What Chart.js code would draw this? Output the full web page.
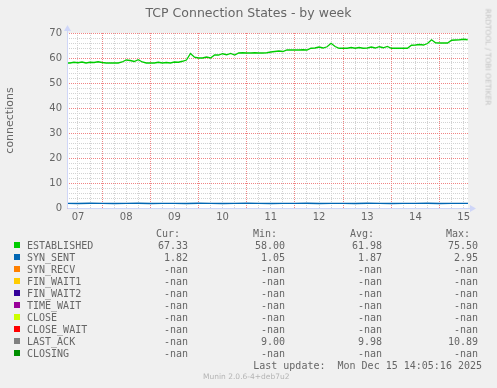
<!DOCTYPE html>
<html>
<head>
<meta charset="utf-8">
<title>TCP Connection States - by week</title>
<script src="https://cdn.jsdelivr.net/npm/chart.js@4/dist/chart.umd.min.js"></script>
<style>
  body { margin: 0; background: #f0f0f0; }
  #wrap { position: relative; width: 497px; height: 388px; overflow: hidden;
          font-family: "DejaVu Sans", sans-serif; color: #666; }
  #chart { position: absolute; left: 0; top: 0; }
  .title { position: absolute; left: 0; top: 5px; width: 497px; text-align: center; font-size: 12.5px; line-height: 16px; }
  .mono { position: absolute; font-family: "DejaVu Sans Mono", monospace; font-size: 10px; line-height: 12px; white-space: pre; }
  .num { text-align: right; }
  .swatch { position: absolute; width: 6px; height: 6px; }
  .rrd { position: absolute; left: 488px; top: 57px; font-size: 7.5px; color: #c4c4c4;
         transform: translate(-50%, -50%) rotate(90deg); white-space: nowrap; }
  .munin { position: absolute; left: 203px; top: 372px; font-size: 7.5px; color: #b4b4b4; white-space: nowrap; }
</style>
</head>
<body>
<div id="wrap">
  <canvas id="chart" width="497" height="388"></canvas>
  <div class="title">TCP Connection States - by week</div>
  <div class="rrd">RRDTOOL / TOBI OETIKER</div>
  <div class="munin">Munin 2.0.6-4+deb7u2</div>
  <div id="legend"></div>
</div>
<script>
// ---- data ----
// time axis in days of December; samples every 2 h from Dec 7 06:00
const START_DAY = 7.25;
const STEP_EST = 2 / 24;
const STEP_SYN = 6 / 24;
const X_MIN = 7.272;
const X_MAX = 15.59;

const dayLabels = ['07', '08', '09', '10', '11', '12', '13', '14', '15'];
const FIRST_DAY = 7;

const established = [
  58.0, 58.0, 58.3, 58.1, 58.4, 58.0, 58.3, 58.2, 58.5, 58.2, 58.0, 58.0,
  58.0, 58.0, 58.4, 59.2, 59.0, 58.6, 59.3, 58.4, 58.0, 58.0, 58.0, 58.3,
  58.0, 58.2, 58.0, 58.4, 58.3, 58.7, 59.2, 61.8, 60.3, 60.0, 60.0, 60.4,
  60.0, 61.2, 61.2, 61.7, 61.3, 61.8, 61.2, 62.0, 62.1, 62.0, 62.0, 62.1,
  62.0, 62.0, 62.1, 62.4, 62.6, 62.8, 62.6, 63.2, 63.2, 63.2, 63.2, 63.3,
  63.2, 63.9, 64.0, 64.4, 64.0, 64.5, 65.9, 64.6, 63.9, 63.9, 63.9, 64.2,
  63.9, 64.2, 63.9, 64.0, 64.4, 64.0, 64.5, 64.1, 64.6, 63.9, 63.9, 63.9,
  63.9, 63.9, 65.1, 65.2, 65.4, 65.2, 65.8, 67.3, 66.1, 66.0, 66.0, 66.0,
  67.1, 67.2, 67.3, 67.5, 67.3
];

const synSent = [
  1.85, 1.80, 1.90, 1.85, 1.80, 1.85, 1.90, 1.80, 1.85, 1.85, 1.80, 1.90,
  1.85, 1.80, 1.85, 1.90, 1.85, 1.80, 1.85, 1.85, 1.90, 1.80, 1.85, 1.85,
  1.80, 1.90, 1.85, 1.80, 1.85, 1.85, 1.90, 1.80, 1.85, 1.82, 1.82
];

const yTickStep = 2;
const yMax = 70;

// ---- legend table ----
const legendNames = ['ESTABLISHED', 'SYN_SENT', 'SYN_RECV', 'FIN_WAIT1', 'FIN_WAIT2',
  'TIME_WAIT', 'CLOSE', 'CLOSE_WAIT', 'LAST_ACK', 'CLOSING'];
const legendColors = ['#00cc00', '#0066b3', '#ff8000', '#ffcc00', '#330099',
  '#990099', '#ccff00', '#ff0000', '#808080', '#008f00'];
const curVals = ['67.33', '1.82', '-nan', '-nan', '-nan', '-nan', '-nan', '-nan', '-nan', '-nan'];
const minVals = ['58.00', '1.05', '-nan', '-nan', '-nan', '-nan', '-nan', '-nan', '9.00', '-nan'];
const avgVals = ['61.98', '1.87', '-nan', '-nan', '-nan', '-nan', '-nan', '-nan', '9.98', '-nan'];
const maxVals = ['75.50', '2.95', '-nan', '-nan', '-nan', '-nan', '-nan', '-nan', '10.89', '-nan'];
const lastUpdate = 'Last update:  Mon Dec 15 14:05:16 2025';

// ===============================
// LEGEND (html text)
// ===============================
const legend = document.getElementById('legend');
const cols = [
  { head: 'Cur:', vals: curVals, right: 188 },
  { head: 'Min:', vals: minVals, right: 285 },
  { head: 'Avg:', vals: avgVals, right: 382 },
  { head: 'Max:', vals: maxVals, right: 478 },
];

function addText(text, left, top, cls, width) {
  const d = document.createElement('div');
  d.className = 'mono ' + (cls || '');
  d.textContent = text;
  d.style.top = top + 'px';
  if (width) { d.style.left = (left - width) + 'px'; d.style.width = width + 'px'; }
  else d.style.left = left + 'px';
  legend.appendChild(d);
}

cols.forEach(c => addText(c.head, c.right - 8, 228, 'num', 60));
legendNames.forEach((name, i) => {
  const top = 240 + 12 * i;
  const sw = document.createElement('div');
  sw.className = 'swatch';
  sw.style.left = '14px';
  sw.style.top = (top + 2) + 'px';
  sw.style.background = legendColors[i];
  legend.appendChild(sw);
  addText(name, 27, top);
  cols.forEach(c => addText(c.vals[i], c.right, top, 'num', 60));
});
addText(lastUpdate, 482, 360, 'num', 260);

// ===============================
// CHART
// ===============================
const MAJOR = '#f08484';
const MINOR = '#d2d2d2';
const AXIS = '#cfd6f8';

const estPoints = established.map((v, i) => ({ x: START_DAY + i * STEP_EST, y: v }));
const synPoints = synSent.map((v, i) => ({ x: START_DAY + i * STEP_SYN, y: v }));

const xGridTicks = [];
for (let d = FIRST_DAY + 0.5; d <= FIRST_DAY + dayLabels.length - 0.5 + 1e-9; d += 0.25) xGridTicks.push(d);

const canvasBg = {
  id: 'canvasBg',
  beforeDraw(chart) {
    const { ctx, chartArea: a } = chart;
    ctx.save();
    ctx.fillStyle = '#ffffff';
    ctx.fillRect(a.left, a.top, a.right - a.left, a.bottom - a.top);
    ctx.restore();
  }
};

const axisArrows = {
  id: 'axisArrows',
  afterDraw(chart) {
    const { ctx, chartArea: a } = chart;
    const x0 = Math.round(a.left) + 0.5;
    const y0 = Math.round(a.bottom) + 0.5;
    ctx.save();
    ctx.strokeStyle = AXIS;
    ctx.fillStyle = AXIS;
    ctx.lineWidth = 1;
    ctx.beginPath();
    ctx.moveTo(x0, y0); ctx.lineTo(a.right + 3, y0);
    ctx.moveTo(x0, y0); ctx.lineTo(x0, a.top - 3);
    ctx.stroke();
    ctx.beginPath();
    ctx.moveTo(a.right + 8, y0); ctx.lineTo(a.right + 2, y0 - 3.5); ctx.lineTo(a.right + 2, y0 + 3.5);
    ctx.closePath(); ctx.fill();
    ctx.beginPath();
    ctx.moveTo(x0, a.top - 8); ctx.lineTo(x0 - 3.5, a.top - 2); ctx.lineTo(x0 + 3.5, a.top - 2);
    ctx.closePath(); ctx.fill();
    ctx.restore();
  }
};

Chart.defaults.font.family = '"DejaVu Sans", sans-serif';
Chart.defaults.color = '#666';

new Chart(document.getElementById('chart'), {
  type: 'line',
  data: {
    datasets: [
      { label: 'SYN_SENT', data: synPoints, borderColor: legendColors[1], borderWidth: 1.3, pointRadius: 0, tension: 0 },
      { label: 'ESTABLISHED', data: estPoints, borderColor: legendColors[0], borderWidth: 1.3, pointRadius: 0, tension: 0 },
    ]
  },
  options: {
    responsive: false,
    animation: false,
    layout: { padding: { left: 0, top: 33, right: 29, bottom: 160 } },
    plugins: { legend: { display: false }, tooltip: { enabled: false }, title: { display: false } },
    scales: {
      x: {
        type: 'linear',
        min: X_MIN,
        max: X_MAX,
        afterBuildTicks: s => { s.ticks = xGridTicks.map(v => ({ value: v })); },
        afterFit: s => { s.height = 20; },
        ticks: {
          autoSkip: false,
          maxRotation: 0,
          padding: 3,
          font: { size: 10 },
          callback: v => {
            const k = v - FIRST_DAY - 0.5;
            return Math.abs(k - Math.round(k)) < 1e-6 ? dayLabels[Math.round(k)] : '';
          }
        },
        grid: {
          drawTicks: false,
          color: c => (Math.abs(c.tick.value - Math.round(c.tick.value)) < 1e-6 ? MAJOR : MINOR),
        },
        border: { display: false, dash: [1, 1] }
      },
      y: {
        min: 0,
        max: yMax,
        afterFit: s => { s.width = 67; },
        ticks: {
          stepSize: yTickStep,
          autoSkip: false,
          padding: 5,
          font: { size: 10 },
          callback: v => (v % 10 === 0 ? v : '')
        },
        grid: {
          drawTicks: false,
          color: c => (c.tick.value % 10 === 0 ? MAJOR : MINOR),
        },
        border: { display: false, dash: [1, 1] },
        title: { display: true, text: 'connections', font: { size: 11 }, padding: { top: 4, bottom: 0 } }
      }
    }
  },
  plugins: [canvasBg, axisArrows]
});
</script>
</body>
</html>
